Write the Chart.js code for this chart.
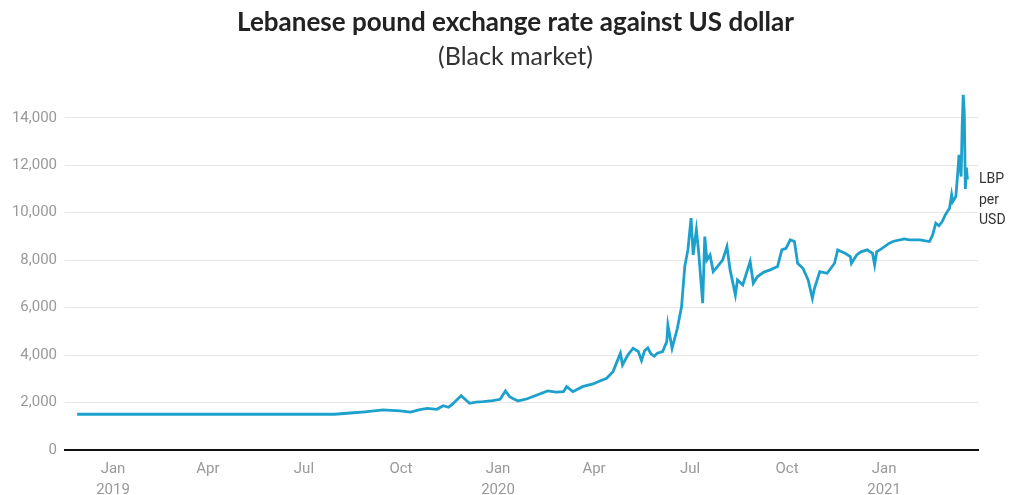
<!DOCTYPE html>
<html>
<head>
<meta charset="utf-8">
<script src="https://cdn.jsdelivr.net/npm/chart.js@4"></script>
<style>
  html, body { margin: 0; padding: 0; background: #fff; }
  #wrap { position: relative; width: 1009px; height: 495px; }
  #title { position: absolute; left: 0; width: 1031px; top: 5px; text-align: center;
    font: bold 26px Lato, sans-serif; color: #222; }
  #subtitle { position: absolute; left: 0; width: 1031px; top: 40px; text-align: center;
    font: 25px Lato, sans-serif; color: #333; }
  #unit { position: absolute; left: 979px; top: 168px; font: 14px Roboto, sans-serif;
    color: #333; line-height: 20.5px; }
</style>
</head>
<body>
<div id="wrap">
  <div id="title">Lebanese pound exchange rate against US dollar</div>
  <div id="subtitle">(Black market)</div>
  <canvas id="chart" width="1009" height="495"></canvas>
  <div id="unit">LBP<br>per<br>USD</div>
</div>
<script>
// black market rate, LBP per USD
const dates = [
  '2018-11-28', '2019-07-30', '2019-08-14', '2019-08-28', '2019-09-14', '2019-09-30', '2019-10-10',
  '2019-10-19', '2019-10-26', '2019-11-04', '2019-11-10', '2019-11-15', '2019-11-19',
  '2019-11-27', '2019-12-05', '2019-12-11', '2019-12-18', '2019-12-27',
  '2020-01-03', '2020-01-08', '2020-01-12', '2020-01-16', '2020-01-20', '2020-01-28',
  '2020-02-07', '2020-02-17', '2020-02-25', '2020-03-03', '2020-03-06', '2020-03-12',
  '2020-03-21', '2020-03-31', '2020-04-06', '2020-04-13', '2020-04-19', '2020-04-26', '2020-04-28',
  '2020-05-03', '2020-05-08', '2020-05-13', '2020-05-16', '2020-05-19', '2020-05-22', '2020-05-25',
  '2020-05-28', '2020-05-31', '2020-06-05', '2020-06-09', '2020-06-10', '2020-06-14', '2020-06-19',
  '2020-06-23', '2020-06-26', '2020-06-29', '2020-07-02', '2020-07-04', '2020-07-07',
  '2020-07-09', '2020-07-13', '2020-07-15', '2020-07-17', '2020-07-20', '2020-07-23',
  '2020-07-27', '2020-08-01', '2020-08-05', '2020-08-08', '2020-08-13', '2020-08-15',
  '2020-08-20', '2020-08-27', '2020-08-30', '2020-09-03', '2020-09-09', '2020-09-15',
  '2020-09-22', '2020-09-26', '2020-09-30', '2020-10-04', '2020-10-08', '2020-10-11',
  '2020-10-16', '2020-10-21', '2020-10-25', '2020-10-27', '2020-11-01', '2020-11-08',
  '2020-11-15', '2020-11-18', '2020-11-25', '2020-11-30', '2020-12-01', '2020-12-06',
  '2020-12-10', '2020-12-16', '2020-12-21', '2020-12-23', '2020-12-25', '2020-12-28',
  '2021-01-06', '2021-01-10', '2021-01-16', '2021-01-20', '2021-01-25', '2021-02-04', '2021-02-08',
  '2021-02-13', '2021-02-16', '2021-02-19', '2021-02-22', '2021-02-25', '2021-02-28', '2021-03-04',
  '2021-03-06', '2021-03-07', '2021-03-10', '2021-03-12', '2021-03-13', '2021-03-15',
  '2021-03-16', '2021-03-17', '2021-03-18', '2021-03-19', '2021-03-20', '2021-03-21'
];
const rates = [
  1507, 1507, 1560, 1610, 1687, 1645, 1600,
  1700, 1758, 1716, 1868, 1800, 1940,
  2290, 1969, 2020, 2037, 2080,
  2138, 2488, 2250, 2150, 2066, 2150,
  2319, 2488, 2440, 2460, 2670, 2460,
  2670, 2783, 2900, 3023, 3303, 4078, 3584,
  4000, 4289, 4150, 3766, 4188, 4300, 4050,
  3950, 4078, 4145, 4567, 5271, 4289, 5132,
  6043, 7730, 8434, 9771, 8223, 9277,
  8434, 6186, 8996, 8012, 8223, 7519,
  7730, 8012, 8575, 7591, 6536, 7169,
  6958, 7941, 7028, 7309, 7500, 7591,
  7730, 8434, 8500, 8856, 8786, 7871,
  7660, 7169, 6396, 6818, 7519, 7449,
  7871, 8434, 8293, 8153, 7871, 8223,
  8350, 8434, 8293, 7800, 8363, 8434,
  8716, 8800, 8856, 8900, 8856, 8856, 8820,
  8786, 9066, 9560, 9450, 9630, 9911, 10192,
  10754, 10473, 10684, 11808, 12440, 11527,
  13634, 14971, 14200, 11000, 11900, 11400
];
const tickDates = ['2019-01-01', '2019-04-01', '2019-07-01', '2019-10-01', '2020-01-01',
  '2020-04-01', '2020-07-01', '2020-10-01', '2021-01-01'];
const tickLabels = [['Jan', '2019'], 'Apr', 'Jul', 'Oct', ['Jan', '2020'], 'Apr', 'Jul', 'Oct', ['Jan', '2021']];
const yTicks = [0, 2000, 4000, 6000, 8000, 10000, 12000, 14000];

// days since 1 Jan 2019
function toDay(s) {
  const p = s.split('-').map(Number);
  return (Date.UTC(p[0], p[1] - 1, p[2]) - Date.UTC(2019, 0, 1)) / 86400000;
}
const points = dates.map((d, i) => ({ x: toDay(d), y: rates[i] }));
const tickDays = tickDates.map(toDay);

new Chart(document.getElementById('chart'), {
  type: 'line',
  data: {
    datasets: [{
      data: points,
      borderColor: '#1ea0cd',
      borderWidth: 2.8,
      pointRadius: 0,
      tension: 0
    }]
  },
  options: {
    responsive: false,
    animation: false,
    layout: { padding: { top: 87, right: 31, left: 0, bottom: 0 } },
    plugins: { legend: { display: false }, tooltip: { enabled: false } },
    scales: {
      x: {
        type: 'linear',
        min: -45.5,
        max: 820,
        afterBuildTicks: (scale) => { scale.ticks = tickDays.map(v => ({ value: v })); },
        afterFit: (scale) => { scale.height = 45; },
        grid: { display: false, drawTicks: false },
        border: { display: true, color: '#111', width: 2 },
        ticks: {
          autoSkip: false,
          maxRotation: 0,
          padding: 9,
          color: '#999',
          font: { family: 'Roboto', size: 15, lineHeight: 1.4 },
          callback: (value, index) => tickLabels[index]
        }
      },
      y: {
        min: 0,
        max: 15300,
        afterBuildTicks: (scale) => { scale.ticks = yTicks.map(v => ({ value: v })); },
        afterFit: (scale) => { scale.width = 65; },
        grid: { color: '#e6e6e6', lineWidth: 1, drawTicks: false },
        border: { display: false },
        ticks: {
          padding: 8,
          color: '#999',
          font: { family: 'Roboto', size: 15 },
          callback: (value) => value.toLocaleString('en-US')
        }
      }
    }
  }
});
</script>
</body>
</html>
